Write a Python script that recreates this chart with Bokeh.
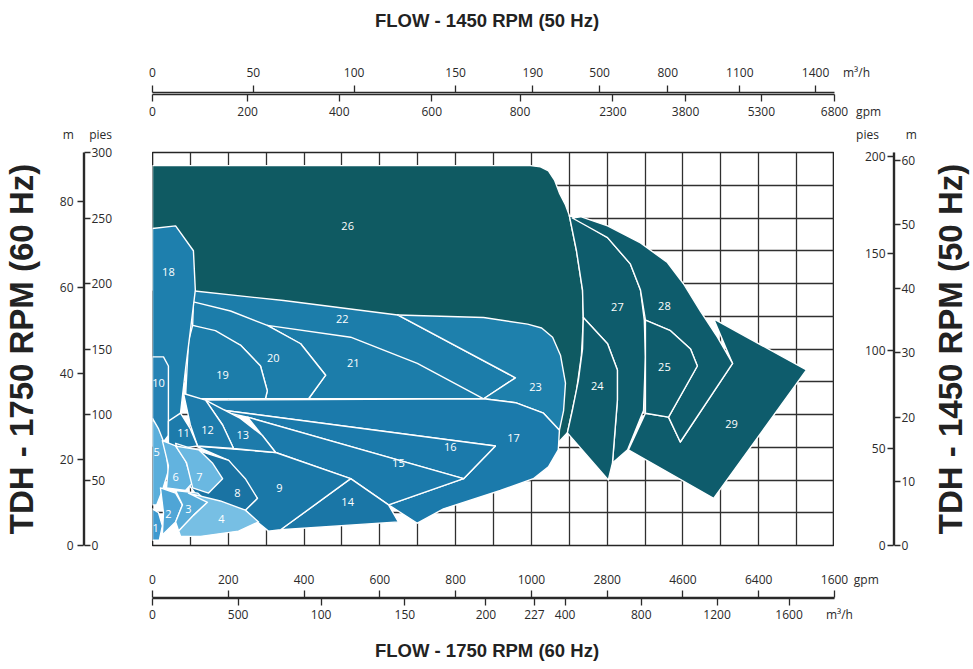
import math
from bokeh.plotting import figure
from bokeh.models import Range1d, FixedTicker, LinearAxis, ColumnDataSource
from bokeh.layouts import column, row
from bokeh.core.properties import value
from bokeh.embed import file_html
from bokeh.resources import INLINE

# ---------------- axis tick values / labels ----------------
# x data unit: linear flow scale of the grid (100 per grid column, 0-1800)
# y data unit: feet at 1750 RPM (25 per grid row, 0-300)
top_m3h_pos = [0, 266, 532, 800, 1004, 1180, 1360, 1550, 1750]
top_m3h_lab = ["0", "50", "100", "150", "190", "500", "800", "1100", "1400"]
top_gpm_pos = [0, 251, 493, 737, 970, 1215, 1407, 1607, 1800]
top_gpm_lab = ["0", "200", "400", "600", "800", "2300", "3800", "5300", "6800"]
bot_gpm_pos = [0, 200, 400, 600, 800, 1000, 1200, 1400, 1600, 1800]
bot_gpm_lab = ["0", "200", "400", "600", "800", "1000", "2800", "4600", "6400", "1600"]
bot_m3h_pos = [0, 226, 445, 666, 880, 1008, 1089, 1290, 1490, 1680]
bot_m3h_lab = ["0", "500", "100", "150", "200", "227", "400", "800", "1200", "1600"]
left_m = [0, 20, 40, 60, 80]
left_pies = [0, 50, 100, 150, 200, 250, 300]
right_pies = [0, 50, 100, 150, 200]
right_m = [0, 10, 20, 30, 40, 50, 60]
FT_PER_M = 3.281          # left scale: metres -> feet (1750 RPM)
R_PIES = 1.485            # right scale (1450 RPM) feet -> chart feet
R_M = 4.9                 # right scale (1450 RPM) metres -> chart feet
# unit captions at the ends of the scales (flow-axis coordinates)
unit_top_m3h, unit_top_gpm = 1858, 1890
unit_bot_gpm, unit_bot_m3h = 1884, 1813
head_pos = [-222, -137, 1887, 2003]
head_lab = ["m", "pies", "pies", "m"]
grid_x = list(range(100, 1800, 100))
grid_y = list(range(25, 300, 25))

# ---------------- coverage regions (drawn back to front) ----------------
region_ids = ["26", "29", "27", "24", "28", "25", "22", "23", "21", "20", "19", "18", "10",
              "17", "16", "15", "14", "9", "13", "12", "11", "8", "5", "6", "7", "2", "3", "4", "1"]
region_xs = [
    [0, 998, 1024, 1045, 1061, 1074, 1090, 1100, 1119, 1135, 1137, 1132, 1119, 1095, 1056, 1024, 1024, 74, 74, 0],
    [1481, 1726, 1481, 1256, 1301, 1362, 1393, 1531],
    [1100, 1119, 1135, 1137, 1201, 1227, 1227, 1214, 1254, 1296, 1301, 1298, 1288, 1261, 1201, 1116],
    [1137, 1201, 1227, 1227, 1214, 1203, 1095, 1108, 1124, 1135],
    [1108, 1130, 1201, 1288, 1359, 1401, 1446, 1491, 1531, 1393, 1362, 1438, 1420, 1367, 1301, 1288, 1261, 1201],
    [1301, 1367, 1420, 1438, 1362, 1301],
    [87, 346, 647, 958, 874, 87],
    [647, 874, 990, 1027, 1056, 1077, 1090, 1085, 1074, 1032, 958, 874, 958],
    [303, 523, 699, 874, 412, 457, 391],
    [108, 206, 303, 391, 457, 412, 298, 303, 285, 232, 106],
    [106, 166, 232, 285, 303, 298, 87, 95],
    [0, 61, 108, 113, 100, 87, 74, 48, 0],
    [0, 29, 42, 42, 21, 0],
    [140, 874, 958, 1032, 1074, 1071, 1045, 1005, 918, 768, 699, 623, 821, 905, 140],
    [140, 905, 821, 251],
    [251, 821, 623, 523, 325],
    [338, 523, 623, 649],
    [113, 325, 523, 338, 306, 272, 245, 277, 201],
    [140, 166, 232, 290, 325, 214, 185],
    [82, 140, 185, 214, 119, 100],
    [42, 74, 100, 119, 74, 42],
    [61, 201, 245, 277, 245, 127, 87],
    [0, 16, 34, 42, 26, 11, 0],
    [26, 61, 87, 106, 87, 37, 42],
    [61, 122, 158, 185, 148, 106, 90],
    [21, 61, 79, 61, 26, 29],
    [61, 119, 145, 108, 69, 61, 79],
    [95, 179, 245, 280, 227, 127, 74, 69, 108, 145],
    [0, 16, 26, 18, 0],
]
region_ys = [
    [290, 290, 289, 286, 279, 269, 260, 252, 225, 195, 172, 145, 118, 86, 74, 74, 156, 156, 195, 195],
    [173, 134, 36, 73, 101, 98, 79, 139],
    [252, 225, 195, 174, 154, 134, 111, 63, 73, 103, 144, 172, 195, 215, 235, 250],
    [174, 154, 134, 111, 63, 50, 86, 103, 126, 150],
    [250, 251, 244, 231, 216, 200, 179, 159, 139, 79, 98, 137, 150, 164, 172, 195, 215, 235],
    [172, 164, 150, 137, 98, 101],
    [195, 187, 176, 128, 112, 112],
    [176, 174, 169, 166, 159, 145, 124, 103, 88, 101, 109, 112, 128],
    [168, 159, 139, 112, 112, 130, 154],
    [186, 179, 168, 154, 130, 112, 112, 118, 137, 153, 168],
    [168, 164, 153, 137, 118, 112, 112, 156],
    [242, 244, 225, 195, 164, 134, 101, 95, 95],
    [144, 144, 137, 84, 76, 76],
    [111, 112, 109, 101, 88, 73, 60, 51, 42, 28, 17, 31, 51, 76, 105],
    [105, 76, 51, 98],
    [98, 51, 31, 51, 71],
    [12, 51, 31, 18],
    [76, 71, 51, 12, 11, 19, 27, 36, 65],
    [111, 107, 97, 84, 71, 74, 92],
    [116, 111, 92, 74, 76, 92],
    [95, 101, 89, 76, 74, 76],
    [78, 65, 51, 36, 27, 34, 50],
    [97, 89, 76, 57, 42, 31, 31],
    [80, 76, 65, 48, 42, 44, 61],
    [76, 73, 63, 51, 40, 44, 63],
    [44, 40, 31, 18, 8, 25],
    [42, 40, 33, 23, 11, 18, 31],
    [40, 34, 27, 18, 11, 7, 7, 11, 23, 33],
    [28, 25, 15, 4, 4],
]
region_colors = ["#0f5a62", "#0e5c6c", "#0e5c6c", "#0e5c6c", "#0e5c6c", "#0e5c6c",
                 "#1c7daa", "#1e80ac", "#1c7daa", "#1c7daa", "#1c7daa", "#1e7fad", "#2582b4",
                 "#1b7aab", "#1b7aab", "#1b7aab", "#1a76a6", "#1a78a8", "#1d7bab", "#1d7bab", "#1d7bab",
                 "#1a73a3", "#5aaedb", "#62b3df", "#6ab8e1", "#4fa5d6", "#58acd9", "#77bfe4", "#3f99cf"]

# region number labels
label_text = ["26", "18", "22", "20", "21", "19", "10", "23", "11", "12", "13", "16", "17", "15",
              "5", "6", "7", "8", "9", "14", "2", "3", "4", "1", "27", "28", "24", "25", "29"]
label_x = [515, 42, 501, 319, 530, 185, 16, 1011, 82, 145, 238, 786, 953, 649,
           11, 61, 124, 224, 335, 515, 42, 95, 182, 8, 1227, 1351, 1174, 1351, 1528]
label_y = [244, 209, 173, 143, 139, 130, 124, 121, 86, 88, 84, 75, 82, 63,
           71, 52, 52, 40, 44, 33, 24, 28, 20, 13, 182, 183, 122, 136, 93]

TICK_FONT = "Open Sans"
TITLE_FONT = "Liberation Sans"
TEXT_COL = "#2a2a2a"

# main chart: frame 152..834 x 152..545 on the page
xr = Range1d(0, 1800)
yr = Range1d(0, 300)
PX_X = 1800 / 682.0
# flow strips span the whole page width (0..973 px) in the same data units
xr_ext = Range1d(-152 * PX_X, (973 - 152) * PX_X)


def scale_axis(ticks, labels, extra_pos=None, extra_lab=None, tick_out=7, bounds=None):
    major = list(ticks) + (list(extra_pos) if extra_pos is not None else [])
    labs = list(labels) + (list(extra_lab) if extra_lab is not None else [])
    ax = LinearAxis(ticker=FixedTicker(ticks=major, minor_ticks=list(ticks)))
    ax.major_label_overrides = {t: l for t, l in zip(major, labs)}
    if bounds is not None:
        ax.bounds = bounds
    ax.major_tick_in = 0
    ax.major_tick_out = tick_out
    ax.major_tick_line_color = None
    ax.minor_tick_in = 0
    ax.minor_tick_out = tick_out
    ax.minor_tick_line_color = TEXT_COL
    ax.minor_tick_line_width = 1.3
    ax.axis_line_color = TEXT_COL
    ax.axis_line_width = 1.4
    ax.major_label_text_font = TICK_FONT
    ax.major_label_text_font_size = "12px"
    ax.major_label_text_color = TEXT_COL
    ax.axis_label_text_font = TITLE_FONT
    ax.axis_label_text_font_style = "bold"
    ax.axis_label_text_color = "#222222"
    return ax


def caption_axis(pos, labs, standoff):
    ax = LinearAxis(ticker=FixedTicker(ticks=list(pos)))
    ax.major_label_overrides = {t: l for t, l in zip(pos, labs)}
    ax.axis_line_color = None
    ax.major_tick_line_color = None
    ax.minor_tick_line_color = None
    ax.major_tick_in = 0
    ax.major_tick_out = 0
    ax.major_label_standoff = standoff
    ax.major_label_text_font = TICK_FONT
    ax.major_label_text_font_size = "12px"
    ax.major_label_text_color = TEXT_COL
    return ax


def strip(width, height, x_range, y_range, left, right, top, bottom):
    f = figure(width=width, height=height, x_range=x_range, y_range=y_range,
               min_border_left=left, min_border_right=right, min_border_top=top,
               min_border_bottom=bottom, x_axis_location=None, y_axis_location=None,
               toolbar_location=None, output_backend="svg")
    f.outline_line_color = None
    f.xgrid.visible = False
    f.ygrid.visible = False
    f.background_fill_color = None
    return f


# ---------------- top strip (50 Hz flow) ----------------
top = strip(973, 143, xr_ext, Range1d(0, 1), 0, 0, 94, 48)
ax = scale_axis(top_m3h_pos, top_m3h_lab, [unit_top_m3h], ["m³/h"], bounds=(0, 1800))
ax.major_label_standoff = 5
ax.axis_label = "FLOW - 1450 RPM (50 Hz)"
ax.axis_label_text_font_size = "18.5px"
ax.axis_label_standoff = 30
top.add_layout(ax, "above")
ax = scale_axis(top_gpm_pos, top_gpm_lab, [unit_top_gpm], ["gpm"], bounds=(0, 1800))
ax.major_label_standoff = 1
top.add_layout(ax, "below")
top.add_layout(caption_axis(head_pos, head_lab, 3), "below")

# ---------------- bottom strip (60 Hz flow) ----------------
bot = strip(973, 113, xr_ext, Range1d(0, 1), 0, 0, 41, 71)
ax = scale_axis(bot_gpm_pos, bot_gpm_lab, [unit_bot_gpm], ["gpm"], bounds=(0, 1800))
ax.major_label_standoff = 3
bot.add_layout(ax, "above")
ax = scale_axis(bot_m3h_pos, bot_m3h_lab, [unit_bot_m3h], ["m³/h"], bounds=(0, 1800))
ax.major_label_standoff = 0
ax.axis_label = "FLOW - 1750 RPM (60 Hz)"
ax.axis_label_text_font_size = "18.5px"
ax.axis_label_standoff = 14
bot.add_layout(ax, "below")

# ---------------- left strip (60 Hz head) ----------------
lft = strip(152, 413, Range1d(0, 1), yr, 82, 69, 9, 11)
ax = scale_axis([m * FT_PER_M for m in left_m], [str(m) for m in left_m], tick_out=6)
ax.major_label_standoff = 4
ax.axis_label = "TDH - 1750 RPM (60 Hz)"
ax.axis_label_text_font_size = "33px"
ax.axis_label_standoff = 17
lft.add_layout(ax, "left")
ax = scale_axis(left_pies, [str(v) for v in left_pies], tick_out=6)
ax.major_label_standoff = 1
lft.add_layout(ax, "right")

# ---------------- right strip (50 Hz head) ----------------
rgt = strip(94, 413, Range1d(0, 1), yr, 59, 34, 9, 11)
ax = scale_axis([v * R_PIES for v in right_pies], [str(v) for v in right_pies], tick_out=6)
ax.major_label_standoff = 2
rgt.add_layout(ax, "left")
ax = scale_axis([v * R_M for v in right_m], [str(v) for v in right_m], tick_out=6)
ax.major_label_standoff = 1
rgt.add_layout(ax, "right")

# title of the right-hand scale (reads bottom to top)
rtl = strip(45, 413, Range1d(0, 1), yr, 44, 0, 9, 11)
ax = LinearAxis(ticker=FixedTicker(ticks=[]))
ax.axis_line_color = None
ax.major_tick_line_color = None
ax.minor_tick_line_color = None
ax.major_tick_out = 0
ax.major_label_text_font_size = "0px"
ax.axis_label = "TDH - 1450 RPM (50 Hz)"
ax.axis_label_text_font = TITLE_FONT
ax.axis_label_text_font_style = "bold"
ax.axis_label_text_font_size = "33px"
ax.axis_label_text_color = "#222222"
ax.axis_label_standoff = 4
rtl.add_layout(ax, "left")

# ---------------- main chart ----------------
p = figure(width=682, height=413, x_range=xr, y_range=yr,
           min_border_left=0, min_border_right=0, min_border_top=9, min_border_bottom=11,
           x_axis_location=None, y_axis_location=None,
           toolbar_location=None, output_backend="svg")
p.xgrid.ticker = FixedTicker(ticks=grid_x)
p.ygrid.ticker = FixedTicker(ticks=grid_y)
p.grid.grid_line_color = "#303030"
p.grid.grid_line_width = 1.3
p.grid.grid_line_alpha = 1.0
p.outline_line_color = "#252525"
p.outline_line_width = 1.6

src = ColumnDataSource(dict(xs=region_xs, ys=region_ys, c=region_colors, n=region_ids))
p.patches("xs", "ys", source=src, fill_color="c", fill_alpha=1.0,
          line_color="white", line_width=1.4, line_join="round")
lsrc = ColumnDataSource(dict(x=label_x, y=label_y, t=label_text))
p.text("x", "y", text="t", source=lsrc, text_font=value(TICK_FONT), text_font_size="11px",
       text_color="white", text_align="center", text_baseline="middle")

layout = column(top, row(lft, p, rgt, rtl), bot)
open("out.html", "w").write(file_html(layout, INLINE))
